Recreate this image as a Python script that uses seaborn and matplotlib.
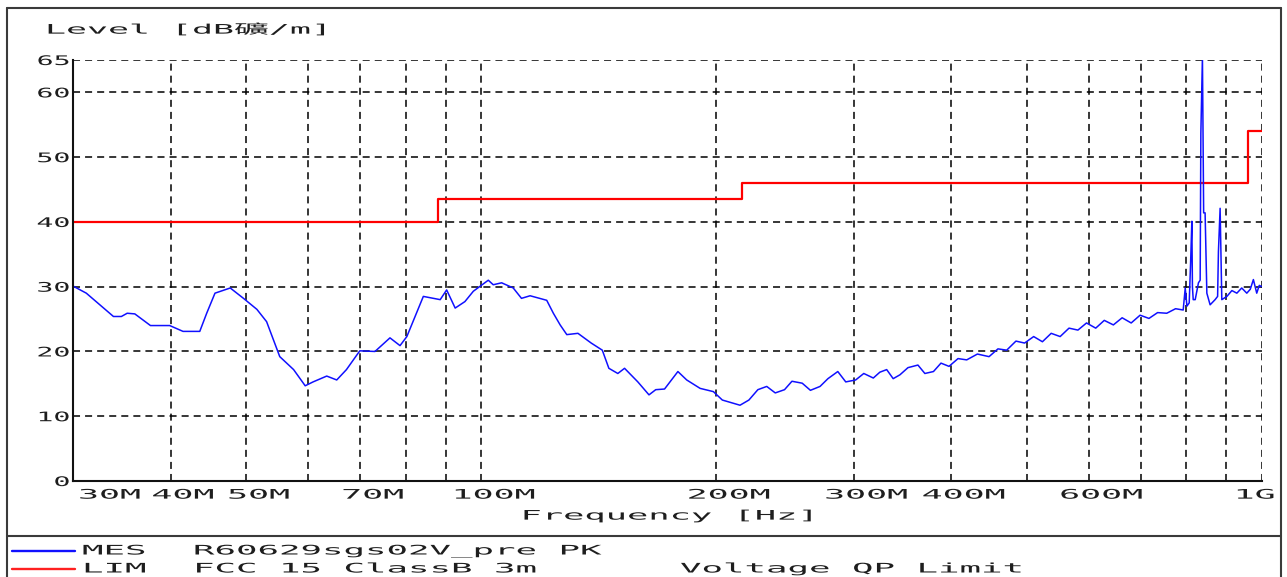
import numpy as np
import pandas as pd
import matplotlib
matplotlib.use("Agg")
import matplotlib.pyplot as plt
import matplotlib.patheffects as pe
from matplotlib.transforms import Affine2D
from matplotlib.lines import Line2D
import seaborn as sns

# ---------------- data ----------------
mes_freq_mhz = [30.0, 31.2, 33.8, 34.6, 35.2, 36.0, 37.7, 39.9, 41.5, 43.6, 44.5, 45.6, 47.7,
                49.6, 51.6, 53.1, 55.2, 57.5, 59.5, 60.9, 63.4, 65.3, 67.2, 69.9, 73.1, 76.4,
                78.7, 80.3, 84.3, 88.6, 90.3, 92.6, 95.3, 97.7, 102.1, 103.6, 106.2, 109.9,
                112.6, 115.5, 121.3, 123.7, 126.2, 128.7, 133.0, 138.3, 142.9, 145.7, 149.6,
                152.6, 158.7, 164.0, 167.3, 171.7, 178.6, 183.3, 190.7, 198.3, 203.6, 214.5,
                220.2, 226.1, 232.1, 238.0, 244.6, 250.0, 257.7, 264.0, 271.6, 278.0, 286.2,
                293.0, 301.7, 309.0, 317.8, 324.0, 330.6, 337.0, 343.8, 352.0, 362.5, 370.0,
                379.5, 388.0, 397.3, 408.0, 418.6, 432.0, 447.1, 459.0, 471.0, 484.0, 496.5,
                510.0, 523.3, 537.0, 551.4, 566.0, 581.1, 596.0, 612.4, 628.0, 645.1, 662.0,
                679.9, 698.0, 716.5, 735.0, 755.1, 775.0, 792.6, 797.4, 801.4, 806.8, 810.3,
                813.1, 814.5, 816.4, 821.2, 829.1, 833.3, 835.0, 838.9, 840.5, 841.9, 845.5,
                849.9, 858.1, 870.8, 877.3, 879.4, 883.8, 886.0, 888.2, 901.6, 915.0, 928.5,
                942.0, 956.1, 966.0, 974.9, 984.6, 992.0, 1000.0]
mes_level_db = [30.1, 29.0, 25.4, 25.4, 25.9, 25.8, 24.0, 24.0, 23.1, 23.1, 25.9, 29.0, 29.8,
                28.2, 26.5, 24.6, 19.2, 17.2, 14.7, 15.3, 16.2, 15.6, 17.2, 20.1, 20.0, 22.1,
                20.9, 22.3, 28.5, 28.0, 29.5, 26.7, 27.7, 29.3, 31.0, 30.3, 30.6, 29.8,
                28.2, 28.6, 27.9, 25.9, 24.1, 22.6, 22.8, 21.3, 20.2, 17.4, 16.6,
                17.4, 15.3, 13.3, 14.1, 14.2, 16.9, 15.6, 14.3, 13.8, 12.5, 11.7,
                12.5, 14.1, 14.6, 13.6, 14.1, 15.4, 15.1, 14.0, 14.6, 15.8, 16.9,
                15.3, 15.6, 16.6, 15.9, 16.8, 17.2, 15.8, 16.4, 17.5, 17.9, 16.6,
                16.9, 18.2, 17.7, 18.9, 18.7, 19.6, 19.2, 20.4, 20.2, 21.6, 21.3,
                22.3, 21.5, 22.8, 22.3, 23.6, 23.3, 24.4, 23.6, 24.8, 24.1, 25.2,
                24.4, 25.6, 25.1, 26.0, 25.9, 26.6, 26.4, 29.8, 27.0, 27.5, 34.0,
                40.1, 30.0, 28.0, 28.0, 30.6, 31.0, 53.7, 65.5, 53.7, 41.4, 41.4,
                29.0, 27.2, 28.0, 28.5, 35.4, 42.1, 35.0, 28.0, 28.5, 29.4, 29.0,
                29.8, 29.0, 29.6, 31.1, 29.0, 30.2, 30.0]

lim_freq_mhz = [30.0, 88.0, 216.0, 960.0, 1000.0]
lim_level_db = [40.0, 43.5, 46.0, 54.0, 54.0]

x_ticks = [30, 40, 50, 60, 70, 80, 90, 100, 200, 300, 400, 500, 600, 700, 800, 900, 1000]
x_tick_labels = ["30M", "40M", "50M", "", "70M", "", "", "100M", "200M", "300M", "400M",
                 "", "600M", "", "", "", "1G"]
y_ticks = [0, 10, 20, 30, 40, 50, 60, 65]
y_tick_labels = ["0", "10", "20", "30", "40", "50", "60", "65"]

y_title = "Level [dB礦/m]"
x_title = "Frequency [Hz]"
legend_rows = [("MES", "R60629sgs02V_pre PK", ""),
               ("LIM", "FCC 15 ClassB 3m", "Voltage QP Limit")]

# ---------------- style ----------------
W, H = 1287, 577
sns.set_style("white")
plt.rcParams["font.family"] = ["DejaVu Sans Mono", "Noto Sans CJK TC"]
TXT = "#1e1e1e"
FS = 9.5          # pt
EM_PX = FS * 100 / 72.0


class Stretch(pe.AbstractPathEffect):
    """Widen glyphs horizontally (imitates the wide bitmap font of the original)."""
    def __init__(self, pitch_px, anchor="left", dx=0.0, dy=0.0):
        super().__init__()
        self.sx = pitch_px / (0.602 * EM_PX)
        self.anchor = anchor
        self.dx = dx
        self.dy = dy

    def draw_path(self, renderer, gc, tpath, affine, rgbFace=None):
        xs = tpath.vertices[:, 0]
        if len(xs) == 0:
            return
        if self.anchor == "left":
            a = xs.min()
        elif self.anchor == "right":
            a = xs.max()
        else:
            a = 0.5 * (xs.min() + xs.max())
        t = (Affine2D().translate(-a, 0).scale(self.sx, 1).translate(a, 0)
             + affine + Affine2D().translate(self.dx, self.dy))
        renderer.draw_path(gc, tpath, t, rgbFace)


fig = plt.figure(figsize=(W / 100, H / 100), dpi=100)
fig.patch.set_facecolor("white")
ax_l, ax_r, ax_t, ax_b = 73, 1262, 60, 481
ax = fig.add_axes([ax_l / W, (H - ax_b) / H, (ax_r - ax_l) / W, (ax_b - ax_t) / H])
ax.set_facecolor("white")

df_mes = pd.DataFrame({"f": mes_freq_mhz, "lvl": mes_level_db})
df_lim = pd.DataFrame({"f": lim_freq_mhz, "lvl": lim_level_db})

sns.lineplot(data=df_lim, x="f", y="lvl", ax=ax, color="#ff0000", linewidth=1.6,
             drawstyle="steps-post", estimator=None, sort=False, zorder=4)
sns.lineplot(data=df_mes, x="f", y="lvl", ax=ax, color="#1010ff", linewidth=1.1,
             estimator=None, sort=False, zorder=5)

ax.set_xscale("log")
ax.set_xlim(30, 1000)
ax.set_ylim(0, 65)
ax.set_xticks(x_ticks)
ax.set_xticklabels(x_tick_labels)
ax.xaxis.set_minor_locator(matplotlib.ticker.NullLocator())
ax.set_yticks(y_ticks)
ax.set_yticklabels(y_tick_labels)

ax.grid(True, which="major", color="black", linewidth=1.1, linestyle=(0, (4.6, 3.3)))
ax.set_axisbelow(True)
for s in ("top", "right"):
    ax.spines[s].set_visible(False)
for s in ("left", "bottom"):
    ax.spines[s].set_color("#111111")
    ax.spines[s].set_linewidth(1.5)
    ax.spines[s].set_zorder(6)

ax.tick_params(axis="both", length=0, labelsize=FS, labelcolor=TXT)
ax.tick_params(axis="x", pad=5.5)
ax.tick_params(axis="y", pad=2.5)

for i, lbl in enumerate(ax.get_xticklabels()):
    if i == 0:
        lbl.set_ha("left")
        lbl.set_path_effects([Stretch(21.0, "left", dx=5)])
    elif i == len(x_ticks) - 1:
        lbl.set_path_effects([Stretch(21.0, "center", dx=-8)])
    else:
        lbl.set_path_effects([Stretch(21.0, "center", dx=12)])
for lbl in ax.get_yticklabels():
    lbl.set_path_effects([Stretch(17.0, "right")])

ax.set_xlabel(x_title, fontsize=FS, color=TXT, va="top")
ax.xaxis.set_label_coords(0.5, -0.068)
ax.xaxis.label.set_path_effects([Stretch(21.3, "center")])

ax.set_ylabel(y_title, fontsize=FS, color=TXT, rotation=0, ha="left", va="center",
              family=["DejaVu Sans Mono", "Noto Sans CJK TC"])
ax.yaxis.set_label_coords((45 - ax_l) / (ax_r - ax_l), (ax_b - 30) / (ax_b - ax_t))
ax.yaxis.label.set_path_effects([Stretch(21.0, "left")])


# ---------------- frame & legend area ----------------
def fx(px):
    return px / W


def fy(py):
    return (H - py) / H


frame_c = "#3a3a3a"
for xs_, ys_ in [([7, 7], [8, H + 2]), ([1281, 1281], [8, H + 2]),
                 ([7, 1281], [8, 8]), ([7, 1281], [536, 536])]:
    fig.add_artist(Line2D([fx(v) for v in xs_], [fy(v) for v in ys_],
                          transform=fig.transFigure, color=frame_c, linewidth=1.5))

legend_y = [551, 569]
legend_col = ["#1010ff", "#ff2020"]
for row, yy, col in zip(legend_rows, legend_y, legend_col):
    fig.add_artist(Line2D([fx(12), fx(75)], [fy(yy), fy(yy)], transform=fig.transFigure,
                          color=col, linewidth=1.7))
    for txt, xx in zip(row, [82, 193, 680]):
        if txt:
            t = fig.text(fx(xx), fy(yy), txt, fontsize=FS, color=TXT, ha="left", va="center")
            t.set_path_effects([Stretch(21.5, "left")])

fig.savefig("out.png", dpi=100, facecolor="white")
